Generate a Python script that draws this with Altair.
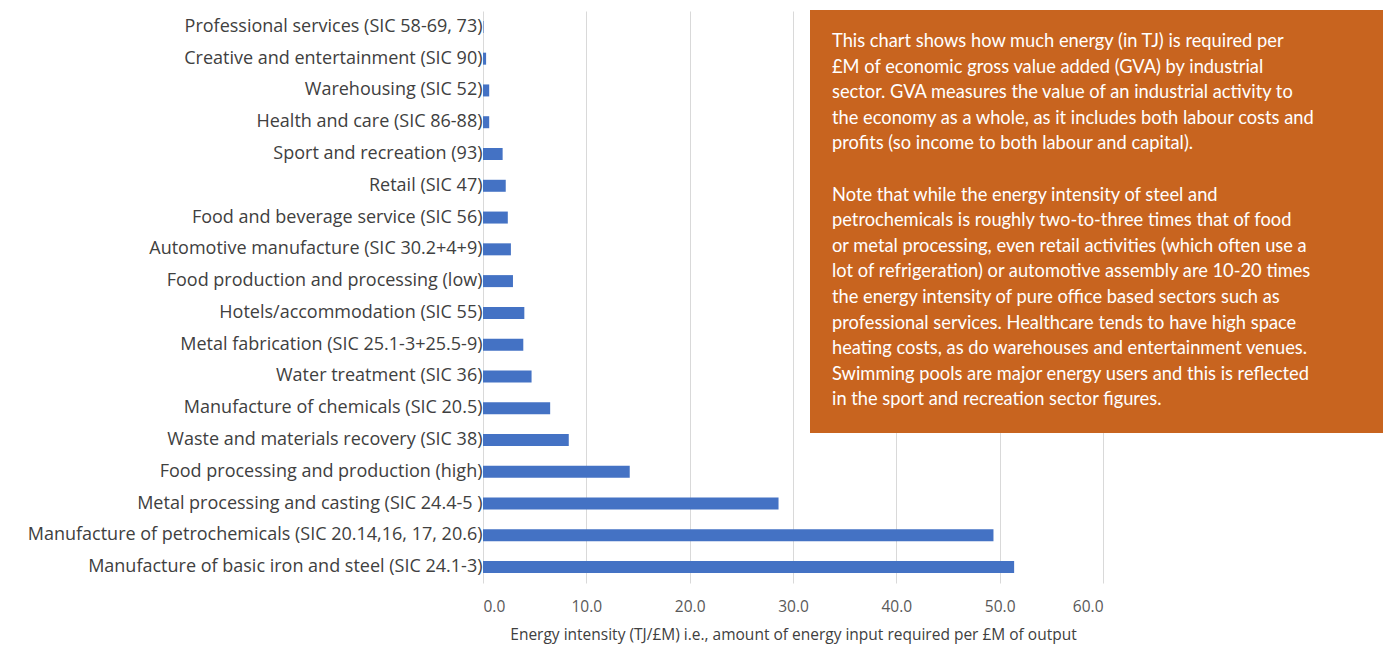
import altair as alt
import pandas as pd

sectors = [
    "Professional services (SIC 58-69, 73)",
    "Creative and entertainment (SIC 90)",
    "Warehousing (SIC 52)",
    "Health and care (SIC 86-88)",
    "Sport and recreation (93)",
    "Retail (SIC 47)",
    "Food and beverage service (SIC 56)",
    "Automotive manufacture (SIC 30.2+4+9)",
    "Food production and processing (low)",
    "Hotels/accommodation (SIC 55)",
    "Metal fabrication (SIC 25.1-3+25.5-9)",
    "Water treatment (SIC 36)",
    "Manufacture of chemicals (SIC 20.5)",
    "Waste and materials recovery (SIC 38)",
    "Food processing and production (high)",
    "Metal processing and casting (SIC 24.4-5 )",
    "Manufacture of petrochemicals (SIC 20.14,16, 17, 20.6)",
    "Manufacture of basic iron and steel (SIC 24.1-3)",
]
intensity = [0.05, 0.3, 0.6, 0.6, 1.9, 2.2, 2.4, 2.7, 2.9, 4.0, 3.9, 4.7, 6.5, 8.3, 14.2, 28.6, 49.4, 51.4]

note_para1 = [
    "This chart shows how much energy (in TJ) is required per",
    "£M of economic gross value added (GVA) by industrial",
    "sector. GVA measures the value of an industrial activity to",
    "the economy as a whole, as it includes both labour costs and",
    "profits (so income to both labour and capital).",
]
note_para2 = [
    "Note that while the energy intensity of steel and",
    "petrochemicals is roughly two-to-three times that of food",
    "or metal processing, even retail activities (which often use a",
    "lot of refrigeration) or automotive assembly are 10-20 times",
    "the energy intensity of pure office based sectors such as",
    "professional services. Healthcare tends to have high space",
    "heating costs, as do warehouses and entertainment venues.",
    "Swimming pools are major energy users and this is reflected",
    "in the sport and recreation sector figures.",
]

df = pd.DataFrame({"sector": sectors, "value": intensity})

bars = alt.Chart(df).mark_bar(size=12, color="#4472C4").encode(
    x=alt.X(
        "value:Q",
        scale=alt.Scale(domain=[0, 60], nice=False),
        axis=alt.Axis(
            values=[0, 10, 20, 30, 40, 50, 60],
            format=".1f",
            title="Energy intensity (TJ/£M) i.e., amount of energy input required per £M of output",
            titleFont="Open Sans",
            titleFontSize=15.5,
            titleFontWeight="normal",
            titleColor="#404040",
            titlePadding=13,
            labelFont="Open Sans",
            labelFontSize=15.5,
            labelColor="#595959",
            labelPadding=16,
            domain=False,
            ticks=False,
            grid=True,
            gridColor="#D9D9D9",
            gridWidth=1,
        ),
    ),
    y=alt.Y(
        "sector:N",
        sort=sectors,
        scale=alt.Scale(paddingInner=0, paddingOuter=0),
        axis=alt.Axis(
            title=None,
            labelFont="Open Sans",
            labelFontSize=18,
            labelColor="#404040",
            labelPadding=1,
            labelLimit=0,
            domain=False,
            ticks=False,
            grid=False,
        ),
    ),
)

box = alt.Chart(alt.Data(values=[{}])).mark_rect(color="#C8641F").encode(
    x=alt.value(327), x2=alt.value(900), y=alt.value(-1), y2=alt.value(422)
)

text_style = dict(
    align="left",
    baseline="alphabetic",
    font="Lato",
    fontSize=18.3,
    lineHeight=25.6,
    color="white",
)

note1 = alt.Chart(alt.Data(values=[{}])).mark_text(text=note_para1, **text_style).encode(
    x=alt.value(349), y=alt.value(36)
)
note2 = alt.Chart(alt.Data(values=[{}])).mark_text(text=note_para2, **text_style).encode(
    x=alt.value(349), y=alt.value(36 + 6 * 25.6)
)

chart = alt.layer(bars, box, note1, note2).properties(
    width=620,
    height=572,
    autosize=alt.AutoSizeParams(type="none"),
    padding={"left": 483, "top": 11, "right": 280, "bottom": 65},
).configure_view(stroke=None)

chart.save("out.html", embed_options={"renderer": "svg", "actions": False})
